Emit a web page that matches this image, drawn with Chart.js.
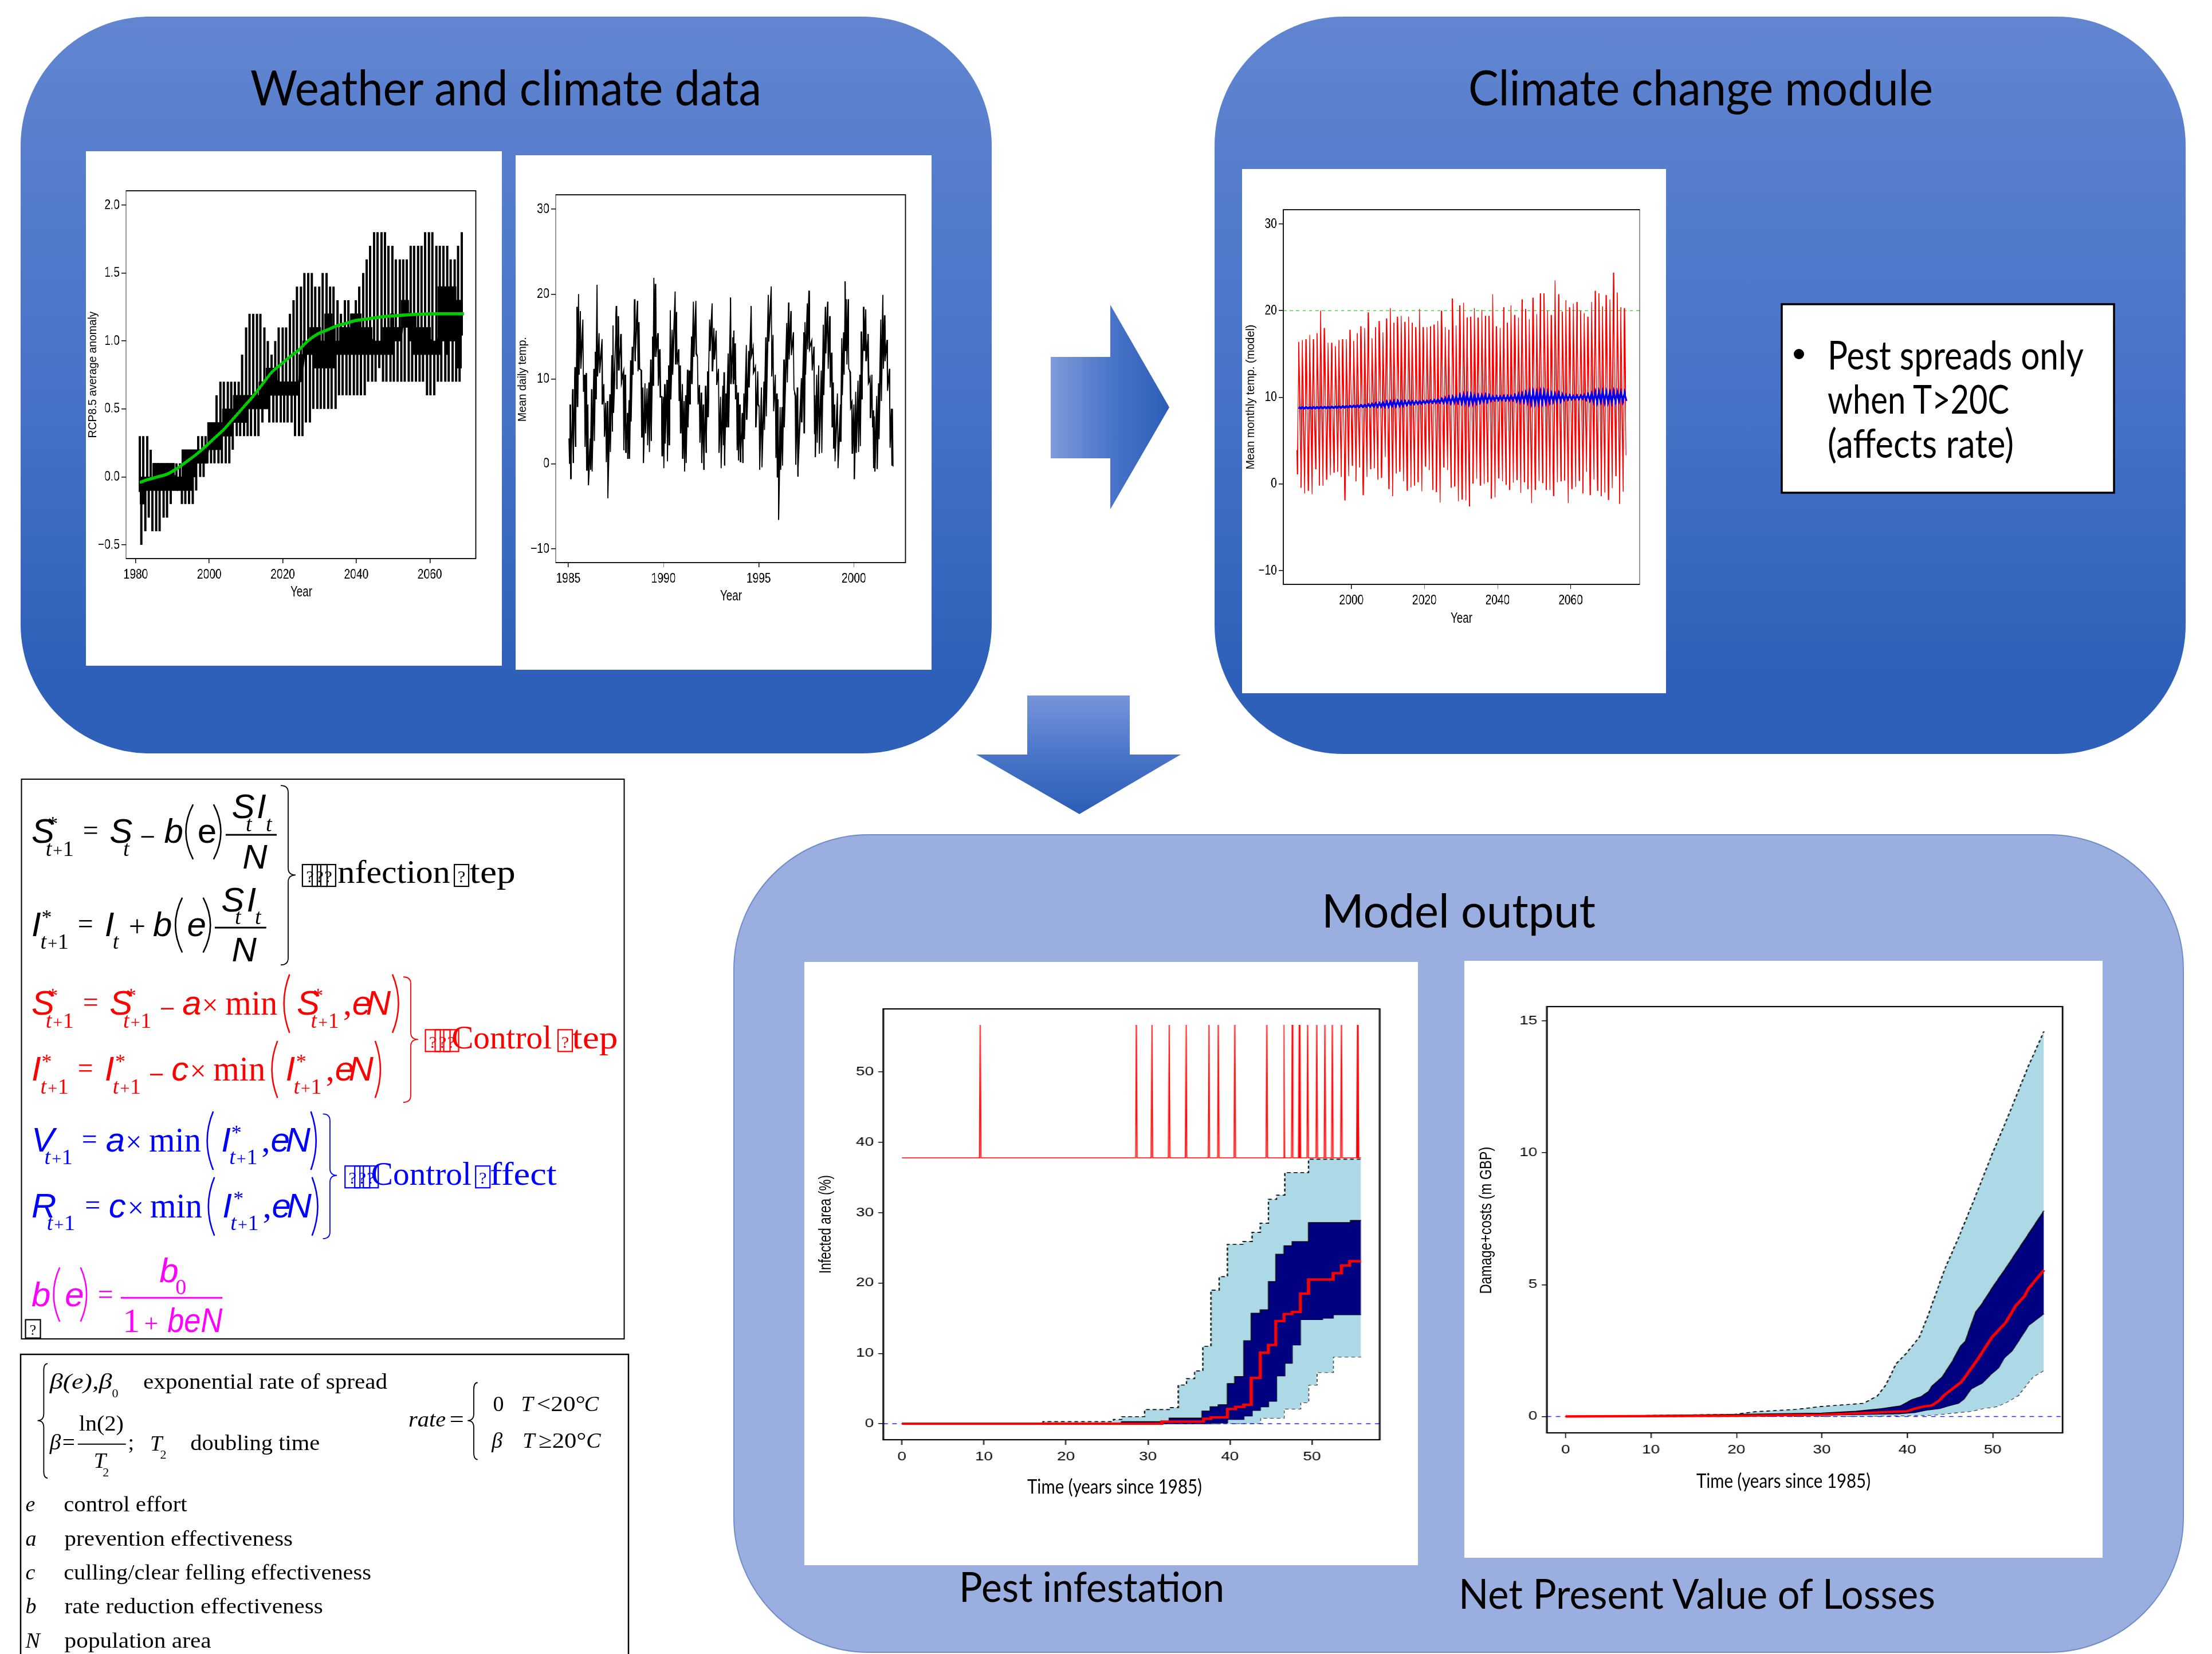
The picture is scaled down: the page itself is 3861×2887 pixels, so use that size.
<!DOCTYPE html>
<html><head><meta charset="utf-8">
<style>
html,body{margin:0;padding:0;background:#fff;width:3861px;height:2887px;overflow:hidden}
svg{position:absolute;left:0;top:0}
.w{position:absolute;background:#fff;transform-origin:0 0}
</style>
<script src="https://cdn.jsdelivr.net/npm/chart.js@4"></script>
</head><body>
<svg id="bg" width="3861" height="2887" xmlns="http://www.w3.org/2000/svg"></svg>
<div id="charts"></div>
<svg id="fg" width="3861" height="2887" xmlns="http://www.w3.org/2000/svg"></svg>
<script>
/* ---------- Chart A: RCP8.5 anomaly ---------- */
const anomStartYear=1981.1, anomStep=0.9955;
const anomPeaks=[.3,.3,.3,.2,.1,.1,.1,.1,.1,.1,.1,.1,.2,.2,.2,.2,.3,.3,.3,.4,.4,.6,.7,.7,.7,.7,.7,.7,.9,1.1,1.2,1.2,1.2,1.2,1.1,1,.9,1,1.1,1.1,1.1,1.2,1.3,1.4,1.4,
1.5,1.5,1.5,1.4,1.4,1.5,1.5,1.4,1.4,1.3,1.2,1.3,1.3,1.2,1.3,1.4,1.5,1.6,1.7,1.8,1.8,1.8,1.8,1.7,1.7,1.6,1.6,1.6,1.6,1.7,1.7,1.7,1.7,1.8,1.8,1.8,1.7,1.7,1.7,1.7,1.6,1.6,1.7,1.8];
const anomTroughs=[-.5,-.4,-.3,-.4,-.4,-.4,-.3,-.3,-.2,-.1,-.1,-.2,-.2,-.2,-.2,-.1,0,0,.1,.1,.1,.1,.1,.1,.1,.2,.3,.3,.3,.3,.3,.3,.3,.4,.5,.4,.4,.4,.4,.4,.4,.4,.3,
.3,.3,.4,.4,.5,.5,.5,.5,.5,.5,.5,.6,.6,.6,.6,.6,.6,.6,.6,.7,.7,.7,.8,.7,.7,.7,.7,.7,.7,.7,.7,.7,.7,.7,.7,.6,.6,.6,.7,.7,.7,.7,.7,.7,.7];
const anomBandHi=[0,0,0,0,.1,.1,.1,.1,.1,.1,0,0,.2,.2,.2,.2,.2,.2,.2,.4,.4,.4,.4,.5,.5,.5,.6,.6,.6,.6,.6,.6,.6,.7,.7,.8,.8,.8,.7,.7,.7,.7,.7,.7,.9,1,1,1.1,1.1,1.1,1,1.2,1.2,1.1,1,1.1,1.1,1.1,1.2,1.2,1.2,1.1,1.1,1.1,1,1,1,1.1,1.1,1.2,1.1,1.1,1.3,1.3,1.2,1.2,1.1,1.1,1.1,1.1,1,1,1.4,1.4,1.4,1.4,1.4,1.3,1.3];
const anomBandLo=[-.2,-.2,-.1,-.1,-.1,-.1,-.1,-.1,-.1,-.1,-.1,-.1,-.1,-.1,-.1,0,.1,.1,.1,.2,.2,.2,.2,.3,.3,.3,.4,.4,.4,.4,.5,.5,.5,.5,.5,.5,.6,.6,.6,.6,.6,.6,.6,.6,.7,.9,.9,.9,.8,.8,.8,.8,.8,.8,.9,.9,.9,.9,.9,.9,.9,.9,.9,.9,.9,.9,.9,.9,.9,.9,1,1,1.1,1.1,1,.9,.9,.9,.9,.9,.9,.9,.9,1,.9,1,1,.8,.8];
const trendYears=[1981.1,1983.3,1985.9,1988.5,1991.1,1993.7,1996.2,1998.8,2001.4,2004,2006.6,2009.2,2011.8,2014.4,2017,2019.6,2022.2,2024.2,2026.8,2029.4,2032,2034.6,2037.2,2039.8,2042.4,2045,2047.6,2050.2,2052.8,2055.4,2058,2060.6,2063.2,2069.3];
const trendValues=[-.04,-.02,0,.02,.06,.11,.16,.22,.285,.35,.43,.51,.59,.68,.77,.83,.89,.93,1,1.05,1.08,1.11,1.13,1.15,1.16,1.17,1.18,1.185,1.19,1.195,1.197,1.2,1.2,1.2];
const anomXTicks=[1980,2000,2020,2040,2060], anomYTicks=[-.5,0,.5,1,1.5,2];

/* ---------- Chart B: mean daily temperature ---------- */
const dailyYears=[1985.04,1985.11,1985.24,1985.36,1985.46,1985.54,1985.64,1985.77,1985.86,1985.95,1986.03,1986.15,1986.23,1986.35,1986.43,1986.51,1986.62,1986.77,1986.87,1986.97,1987.06,1987.19,1987.30,1987.35,1987.53,1987.63,1987.77,1987.90,1988.00,1988.11,1988.19,1988.28,1988.37,1988.49,1988.64,1988.71,1988.84,1988.92,1989.03,1989.14,1989.24,1989.34,1989.44,1989.50,1989.58,1989.71,1989.81,1989.91,1989.99,1990.07,1990.19,1990.28,1990.36,1990.46,1990.61,1990.69,1990.80,1990.88,1990.99,1991.08,1991.17,1991.27,1991.37,1991.47,1991.57,1991.70,1991.79,1991.89,1991.99,1992.10,1992.22,1992.32,1992.42,1992.55,1992.65,1992.77,1992.89,1993.00,1993.12,1993.19,1993.29,1993.39,1993.52,1993.65,
1993.70,1993.77,1993.84,1993.92,1994.02,1994.15,1994.22,1994.35,1994.47,1994.60,1994.71,1994.83,1994.95,1995.03,1995.15,1995.28,1995.38,1995.51,1995.66,1995.76,1995.88,1995.96,1996.02,1996.13,1996.23,1996.33,1996.48,1996.58,1996.70,1996.83,1996.93,1997.04,1997.24,1997.37,1997.44,1997.56,1997.65,1997.79,1997.91,1997.95,1998.05,1998.16,1998.29,1998.40,1998.51,1998.63,1998.74,1998.84,1998.92,1998.99,1999.14,1999.29,1999.37,1999.47,1999.54,1999.61,1999.71,1999.81,1999.90,2000.00,2000.10,2000.22,2000.32,2000.40,2000.52,2000.62,2000.75,2000.85,2000.95,2001.02,2001.08,2001.20,2001.30,2001.42,2001.53,2001.62,2001.75,2001.88,2001.98,2002.03];
const dailyHigh=[3,7,8.8,11.4,18.5,20,18,17,10.5,10.7,7,3,8.8,11.2,13.2,21.1,15.4,14.7,9.4,7.2,7.4,8.2,12.8,16.3,18.6,17.4,15.3,10.8,10.5,6,7.5,12.2,13.8,19.4,19.2,16.7,11,9,9.5,8.9,9.6,12.3,15,21.9,21.2,15.4,13.5,7.9,7.9,9.4,9.9,11.6,18.1,15.8,20.3,17.9,13.5,11.6,9.4,7.4,8.1,11.1,11,15,19.1,19.2,12.6,9.3,8.4,7,9.2,10.9,17,18.9,16,15.7,11.2,7.9,9.2,10.8,8.3,13,19.6,14.9,
15.7,14.2,9.3,8.4,7,6,8.3,14,13.3,18.6,13.7,11.4,10.9,6.7,9,9.7,14.9,19.9,20.9,15.2,10.5,8.3,7.6,6.7,6.7,12.3,16.6,19,18,15.5,8,9,10.1,15.5,16.7,18.9,20.4,14.5,13.8,8.1,10.5,11.6,11,16.4,18.5,19.1,17.4,13.1,9.6,7,8.3,7,14.8,15.5,21.5,19.4,19.4,10.8,7.2,7,8.5,9.8,10.5,15.6,18.5,18.2,15.3,10.1,10.5,6.3,5.6,8,9.5,17,19.9,17.5,14.6,11.2,6.5,6.5];
const dailyLow=[0,-1.8,.1,2,6.7,10.5,11.2,8.5,2,-.8,-2.5,-.7,-.9,2.7,7.6,10.3,10.7,7,3.2,.2,-4.05,1.4,3.8,6,8.8,11,9.6,1.6,1.3,.6,.6,5,10.5,12.1,10.9,11.2,3.1,.1,3.6,2.2,1.4,2.7,9.2,12.6,12.6,9.2,7.9,.9,-.5,2.4,.3,2.2,7.6,10.5,11.7,11.7,7.4,3.6,.6,-.9,.1,4.3,7,9.4,12.6,13,7,2.5,.1,-.7,1.3,5.5,13.3,10.9,12.3,9.3,1.3,-.5,2.2,-.2,4.3,4.3,9.4,9.4,
9.9,7.6,1.6,.4,.2,.1,2.9,5.2,9,12.8,10.8,4.3,7,-.7,-.4,4,5.6,14.4,10.3,6.2,.7,-1.6,-6.6,-.7,-.2,4.3,9.6,12.3,12.8,8.8,-.1,-1.5,4.9,3.6,10.5,13.5,13.6,11,3.6,.8,2.5,1.2,1.3,8.1,13,11.2,9,4.3,1.8,.3,-.5,2.6,8.1,10.5,13.3,11.7,11.2,6.7,1.2,-1.8,1.3,1.4,2.1,7.6,13.3,12.1,9.6,5.4,4.3,-.5,-.9,-.6,2.9,7.4,11.2,12.1,8.6,1.9,-.2,-.3];
const dailyXTicks=[1985,1990,1995,2000], dailyYTicks=[-10,0,10,20,30];

/* ---------- Chart C: modelled monthly temperature ---------- */
const modelStartYear=1985.58, modelStep=1.002, modelStartValue=3.9, modelEndValue=3.3;
const modelPeaks=[16.4,16.6,16.7,17.2,16.7,17.4,20,18,16.3,16.3,15.9,16.6,16.7,16.7,17.8,16.5,17.4,18.2,18,19.8,16.8,18.1,18.8,17.5,19.1,20.3,18.6,19.3,19.4,18.7,19.3,18.6,18.1,20.2,18.1,18.1,18.2,18.4,18.8,20,18.1,17.8,21.4,18.3,20.6,
20.9,19.2,19.3,20.3,19.2,20.1,19.4,19.4,21.9,18.2,18,20.4,18.6,20.6,19.5,19.2,21.3,20.2,19,21.5,19.6,22,22,20,19.5,23.5,21.9,19.9,21.2,20.4,20.8,21,20,19.7,19.3,21,22.3,22,20.5,21.8,21.3,24.4,22.1,20.4,20.3];
const modelTroughs=[1.1,-.45,-1.1,-.8,-1.2,1.7,-.2,-.2,.5,1,1.3,1.4,.8,-1.9,.9,2.1,.3,1.9,-1.3,.8,1.7,1.8,.5,.7,3.1,-.6,-1.4,1.2,1.4,.3,-.8,-.4,-.2,.2,-.85,2,1.6,-.7,-.95,-2.15,1.9,1.6,-.45,-.3,-2,
-1.8,-1.9,-2.6,.05,.6,-.2,0,.2,-1.7,-1.55,.65,.3,-.1,-.7,.15,.45,-1.05,.2,-.6,-2.2,-.7,.35,.1,-.7,-.7,-1.4,.2,.3,.4,-2.2,-.6,-.35,.35,-1.1,1.4,-1.3,.5,-.8,-1.4,-1,-1.85,-.5,.9,-2.3,-.9];
const meanTemp=[8.78,8.78,8.79,8.79,8.8,8.8,8.81,8.82,8.83,8.84,8.85,8.87,8.89,8.91,8.93,8.95,8.97,8.99,9.02,9.05,9.08,9.11,9.14,9.17,9.2,9.23,9.26,9.29,9.31,9.33,9.35,9.37,9.39,9.41,9.44,9.47,9.5,9.53,9.57,9.6,9.64,9.68,9.72,9.76,9.79,
9.8,9.78,9.77,9.8,9.83,9.85,9.87,9.9,9.9,9.9,9.9,9.9,9.9,9.92,9.92,9.93,9.95,9.95,9.97,9.97,9.98,9.98,9.98,9.98,9.98,10,10,10,10,10,10,10,10,10,10,10,10,10.03,10.03,10.03,10.03,10.05,10.05,10.05,10.05];
const meanSwing=[.05,.05,.05,.05,.05,.05,.05,.05,.05,.05,.05,.05,.05,.05,.05,.06,.07,.09,.1,.12,.15,.18,.2,.22,.26,.26,.26,.26,.25,.2,.18,.15,.13,.12,.11,.11,.12,.15,.15,.2,.28,.31,.31,.31,.4,
.48,.48,.48,.4,.35,.35,.35,.28,.2,.2,.2,.22,.22,.22,.3,.4,.4,.5,.6,.6,.6,.6,.6,.5,.42,.42,.42,.3,.22,.2,.18,.18,.18,.25,.31,.45,.55,.55,.55,.55,.55,.55,.5,.48,.48];
const thresholdLevel=[20,20], thresholdSpan=[1981.36,2078.9];
const modelXTicks=[2000,2020,2040,2060], modelYTicks=[-10,0,10,20,30];

/* ---------- Chart D: infected area ---------- */
const controlYears=[9.56,28.6,30.5,32.6,34.66,37.45,38.6,40.6,44.5,46.6,47.6,48.45,48.55,49.5,50.6,51.6,52.5,53.6,55.55,55.65];
const controlBase=37.8, controlPeak=56.7, controlEnd=[0,56];
const infQ95T=[0,17.2,25.8,26.8,29.6,32.6,33.7,34.7,35.7,36.7,37.7,38.7,39.7,41.6,42.7,43.7,44.7,45.7,46.7,49.6,56];
const infQ95=[.1,.3,.6,1,2,2.3,5.5,6.4,7.5,11,19,20.9,25.5,25.9,27.2,28.5,31.9,32.5,35.7,37.6,37.8];
const infQ75T=[0,26.8,32.6,36.6,37.6,38.6,39.7,40.6,41.7,42.6,43.7,44.7,45.6,46.6,47.6,49.6,53.5,54.7,56];
const infQ75=[.1,.3,.8,1.8,2.4,2.7,5.7,6.7,11.8,15.7,16.2,20.2,24.1,25.3,25.9,28.6,28.6,28.9,28.9];
const infMedT=[0,31.7,36.8,37.7,39.7,40.7,41.7,42.6,43.7,44.7,45.6,46.6,47.6,48.6,49.6,52.6,53.6,54.6,56];
const infMed=[0,.3,.7,.9,2.1,2.4,2.7,6.5,10.1,11.2,14.6,15.6,15.9,18.5,20.5,21.4,22.5,23.1,23.1];
const infQ25T=[0,37.6,39.7,41.7,42.7,43.7,44.7,45.7,46.7,47.6,48.6,51.3,52.6,56];
const infQ25=[0,.1,.6,1.1,1.9,2.4,3.2,6.8,8.6,11.2,14.8,15,15.5,15.5];
const infQ05T=[0,38.8,43.7,46.6,48.6,49.6,50.6,52.6,56];
const infQ05=[0,.05,.8,2.1,3,5.5,7.3,9.5,9.5];
const timeTicks=[0,10,20,30,40,50], infYTicks=[0,10,20,30,40,50];

/* ---------- Chart E: damage + costs ---------- */
const dmgQ95T=[0,19.7,22.2,27,30,34.9,36.5,37.5,38.7,39.9,41.4,42.4,44.4,45.9,47.8,50,51.7,54.2,56];
const dmgQ95=[0,.08,.18,.27,.38,.5,.78,1.2,2,2.4,3,3.8,5.6,6.7,8.2,10,11.3,13.3,14.6];
const dmgQ75T=[0,20,30,34,37,39.2,40.6,41.6,42.5,42.9,44.1,45.3,46.2,46.8,48,48.7,50.2,51.7,56];
const dmgQ75=[0,.08,.13,.2,.3,.4,.65,.75,.95,1.15,1.5,2.1,2.65,2.85,3.95,4.25,5,5.7,7.8];
const dmgMedT=[0,20,30,40,40.9,41.9,42.9,43.8,44.3,46.3,47,48.3,49.9,51.5,52.7,53.7,54.2,56];
const dmgMed=[0,.03,.07,.2,.3,.38,.42,.62,.8,1.3,1.6,2.2,3,3.55,4.2,4.55,4.85,5.55];
const dmgQ25T=[0,20,30,39,40.9,42.4,43.8,44.8,46,46.6,47.5,48.8,49.8,50.7,51.3,52.3,54.2,54.8,56];
const dmgQ25=[0,.02,.05,.1,.15,.25,.3,.4,.5,.65,1.05,1.27,1.6,1.85,2.2,2.5,3.45,3.6,3.9];
const dmgQ05T=[0,35,41,42.9,45.8,47.5,48.8,50.5,51.7,53,54.7,56];
const dmgQ05=[0,.01,.04,.05,.15,.2,.3,.38,.55,.8,1.5,1.75];
const dmgYTicks=[0,5,10,15];
const zeroLine=[0,0];

/* ---------- text content ---------- */
const panelTitles=["Weather and climate data","Climate change module","Model output"];
const captionTexts=["Pest infestation","Net Present Value of Losses"];
const pestRuleLines=["Pest spreads only","when T>20C","(affects rate)"];
const axisX="Time (years since 1985)";

/* ---------- helpers ---------- */
const NS='http://www.w3.org/2000/svg';
const bg=document.getElementById('bg'), fg=document.getElementById('fg');
function el(p,n,a){const e=document.createElementNS(NS,n);for(const k in a)e.setAttribute(k,a[k]);p.appendChild(e);return e;}
const SANS='Liberation Sans', SERIF='Liberation Serif', CAL='Lato';
function T(s,x,y,o={}){
  const a={x:o.dx||0,y:0,'font-family':o.f||SERIF,'font-size':o.s||40,fill:o.c||'#000',transform:`translate(${x},${y}) rotate(${o.r||0})`};
  if(o.i)a['font-style']='italic';
  if(o.a)a['text-anchor']=o.a;
  if(o.w){a.textLength=o.w;a.lengthAdjust='spacingAndGlyphs';}
  const e=el(fg,'text',a);e.textContent=s;return e;
}
function pts(xs,ys){return xs.map((x,i)=>({x,y:ys[i]}));}
const borderPlugin={id:'box',afterDraw(c){const a=c.chartArea,x=c.ctx;x.save();x.strokeStyle='#000';x.lineWidth=c.options.boxWidth||1.6;x.strokeRect(a.left,a.top,a.right-a.left,a.bottom-a.top);x.restore();}};
function plot(cfg){
  const [x0,y0,x1,y1]=cfg.box,[l,t,r,b]=cfg.area,sx=cfg.sx;
  const W=Math.round((x1-x0)/sx),H=y1-y0;
  const d=document.createElement('div');d.className='w';
  d.style.cssText=`left:${x0}px;top:${y0}px;width:${W}px;height:${H}px;transform:scale(${sx},1)`;
  const cv=document.createElement('canvas');cv.width=W;cv.height=H;d.appendChild(cv);
  document.getElementById('charts').appendChild(d);
  const fnt={family:SANS,size:cfg.fs};
  const common={type:'linear',border:{display:false},
    grid:{display:true,drawOnChartArea:false,drawTicks:true,color:'#000',lineWidth:1.5}};
  new Chart(cv,{type:'scatter',data:{datasets:cfg.datasets},plugins:[borderPlugin],options:{
    responsive:false,animation:false,devicePixelRatio:1,events:[],boxWidth:cfg.bw||1.8,
    layout:{padding:{top:t-y0,right:(x1-r)/sx,left:0,bottom:0}},
    plugins:{legend:{display:false},tooltip:{enabled:false},title:{display:false}},
    elements:{point:{radius:0},line:{tension:0}},
    scales:{
      x:{...common,min:cfg.xr[0],max:cfg.xr[1],grid:{...common.grid,tickLength:cfg.tl||8},
        ticks:{font:fnt,color:'#000',autoSkip:false,maxRotation:0,minRotation:0,padding:cfg.xp,callback:v=>String(v)},
        afterBuildTicks:s=>{s.ticks=cfg.xt.map(value=>({value}));},afterFit:s=>{s.height=y1-b;}},
      y:{...common,min:cfg.yr[0],max:cfg.yr[1],grid:{...common.grid,tickLength:(cfg.tl||8)/sx},
        ticks:{font:fnt,color:'#000',autoSkip:false,padding:cfg.yp,callback:cfg.yf},
        afterBuildTicks:s=>{s.ticks=cfg.yt.map(value=>({value}));},afterFit:s=>{s.width=(l-x0)/sx;}}
    }}});
}
const intFmt=v=>v<0?'\u2212'+Math.abs(v):String(v);
const decFmt=v=>(v<0?'\u2212':'')+Math.abs(v).toFixed(1);

/* ---------- background shapes ---------- */
const defs=el(bg,'defs',{});
function grad(id,x2,y2,stops){const g=el(defs,'linearGradient',{id,x1:0,y1:0,x2,y2});stops.forEach(s=>el(g,'stop',{offset:s[0],'stop-color':s[1]}));}
grad('gp',0,1,[[0,'#6185D0'],[.5,'#4873C8'],[.9,'#2E60B9'],[1,'#2E60B9']]);
grad('ga',1,0,[[0,'#7E9BDB'],[.5,'#4A75C8'],[1,'#2C5EB7']]);
grad('gd',0,1,[[0,'#7695DA'],[.5,'#4A75C8'],[1,'#2C5EB7']]);
el(bg,'rect',{x:36,y:29,width:1695,height:1286,rx:225,ry:225,fill:'url(#gp)'});
el(bg,'rect',{x:2120,y:29,width:1695,height:1287,rx:225,ry:225,fill:'url(#gp)'});
el(bg,'rect',{x:1281,y:1457,width:2530,height:1427,rx:235,ry:235,fill:'#9AAFDF',stroke:'#6F8CCB','stroke-width':2});
el(bg,'polygon',{points:'1834,623 1938,623 1938,532 2041,711 1938,889 1938,800 1834,800',fill:'url(#ga)'});
el(bg,'polygon',{points:'1793,1214 1972,1214 1972,1317 2061,1317 1884,1421 1704,1317 1793,1317',fill:'url(#gd)'});
el(bg,'rect',{x:3110,y:531,width:580,height:329,fill:'#fff',stroke:'#000','stroke-width':3.5});
el(bg,'rect',{x:37.5,y:1360,width:1052,height:977,fill:'#fff',stroke:'#000','stroke-width':2});
el(bg,'rect',{x:36,y:2364,width:1061,height:560,fill:'#fff',stroke:'#000','stroke-width':2.5});

/* ---------- charts ---------- */
(function(){
  const spikes=[];
  anomPeaks.forEach((p,i)=>{
    const yr=anomStartYear+i*anomStep, m=(anomBandHi[i]+anomBandLo[i])/2;
    spikes.push({x:yr,y:m},{x:yr,y:p},{x:yr,y:m});
    if(i<anomTroughs.length){const yt=yr+.45;spikes.push({x:yt,y:m},{x:yt,y:anomTroughs[i]},{x:yt,y:m});}
  });
  const bandX=anomPeaks.map((_,i)=>anomStartYear+i*anomStep);
  plot({box:[150,264,876,1162],area:[220,333,830,975],sx:.8,fs:24,xr:[1977.35,2072.5],yr:[-.601,2.105],xt:anomXTicks,yt:anomYTicks,yf:decFmt,xp:6,yp:4,
    datasets:[
      {data:pts(trendYears,trendValues),showLine:true,borderColor:'#00CC00',borderWidth:5.5,cubicInterpolationMode:'monotone',order:0},
      {data:spikes,showLine:true,borderColor:'#000',borderWidth:5,order:1},
      {data:pts(bandX,anomBandHi),showLine:true,stepped:'middle',borderColor:'#000',borderWidth:1,fill:{target:3},backgroundColor:'#000',order:2},
      {data:pts(bandX,anomBandLo),showLine:true,stepped:'middle',borderColor:'#000',borderWidth:1,order:2}
    ]});
  const daily=[];
  dailyYears.forEach((y,i)=>{daily.push({x:y,y:dailyHigh[i]},{x:y+.025,y:dailyLow[i]});});
  plot({box:[900,271,1626,1169],area:[970,340,1580,982],sx:.8,fs:24,xr:[1984.34,2002.71],yr:[-11.62,31.69],xt:dailyXTicks,yt:dailyYTicks,yf:intFmt,xp:6,yp:4,
    datasets:[{data:daily,showLine:true,borderColor:'#000',borderWidth:2.8}]});
  const red=[{x:modelStartYear-.45,y:modelStartValue}], blue=[];
  modelPeaks.forEach((p,i)=>{
    const yr=modelStartYear+i*modelStep;
    red.push({x:yr-.36,y:modelTroughs[i]},{x:yr,y:p});
    blue.push({x:yr,y:meanTemp[i]+meanSwing[i]},{x:yr+.5,y:meanTemp[i]-meanSwing[i]});
  });
  red.push({x:modelStartYear+modelPeaks.length*modelStep-.6,y:modelEndValue});
  plot({box:[2168,295,2908,1210],area:[2240,366,2862,1020],sx:.8,fs:24,xr:[1981.36,2078.9],yr:[-11.59,31.65],xt:modelXTicks,yt:modelYTicks,yf:intFmt,xp:6,yp:4,
    datasets:[
      {data:blue,showLine:true,borderColor:'#0000EE',borderWidth:4.4,order:0},
      {data:red,showLine:true,borderColor:'#FF0000',borderWidth:2.2,order:1},
      {data:pts(thresholdSpan,thresholdLevel),showLine:true,borderColor:'#55DD55',borderWidth:1.6,borderDash:[7,7],order:2}
    ]});
  const control=[{x:controlEnd[0],y:controlBase}];
  controlYears.forEach(y=>control.push({x:y-.09,y:controlBase},{x:y,y:controlPeak},{x:y+.09,y:controlBase}));
  control.push({x:controlEnd[1],y:controlBase});
  const dash={showLine:true,borderColor:'#000',borderWidth:1.7,borderDash:[5,4]};
  const solid={showLine:true,borderColor:'#000',borderWidth:1.4};
  plot({box:[1404,1679,2475,2732],area:[1542,1761,2408,2513],sx:1.3,fs:21.5,tl:9,bw:2.2,xr:[-2.26,58.27],yr:[-2.28,58.98],xt:timeTicks,yt:infYTicks,yf:intFmt,xp:8,yp:6,
    datasets:[
      {data:pts(infMedT,infMed),showLine:true,stepped:'before',borderColor:'#FF0000',borderWidth:4.2,order:0},
      {data:pts([-2.26,58.27],zeroLine),showLine:true,borderColor:'#2222FF',borderWidth:1.4,borderDash:[6,6],order:1},
      {data:control,showLine:true,borderColor:'#FF0000',borderWidth:1.4,order:1},
      {data:pts(infQ75T,infQ75),...solid,stepped:'before',fill:{target:4},backgroundColor:'#000080',order:2},
      {data:pts(infQ25T,infQ25),...solid,stepped:'before',order:2},
      {data:pts(infQ95T,infQ95),...dash,stepped:'before',fill:{target:6},backgroundColor:'#ADD8E6',order:3},
      {data:pts(infQ05T,infQ05),...dash,stepped:'before',order:3}
    ]});
  plot({box:[2556,1677,3670,2719],area:[2700,1757,3600,2501],sx:1.3,fs:21.5,tl:9,bw:2.2,xr:[-2.19,58.18],yr:[-.62,15.54],xt:timeTicks,yt:dmgYTicks,yf:intFmt,xp:8,yp:6,
    datasets:[
      {data:pts(dmgMedT,dmgMed),showLine:true,borderColor:'#FF0000',borderWidth:4.2,order:0},
      {data:pts([-2.19,58.18],zeroLine),showLine:true,borderColor:'#2222FF',borderWidth:1.4,borderDash:[6,6],order:1},
      {data:pts(dmgQ75T,dmgQ75),...solid,fill:{target:3},backgroundColor:'#000080',order:2},
      {data:pts(dmgQ25T,dmgQ25),...solid,order:2},
      {data:pts(dmgQ95T,dmgQ95),...dash,fill:{target:5},backgroundColor:'#ADD8E6',order:3},
      {data:pts(dmgQ05T,dmgQ05),...dash,order:3}
    ]});
})();

/* ---------- titles, axis names ---------- */
T(panelTitles[0],437,184,{f:CAL,s:86,w:892});
T(panelTitles[1],2563,184,{f:CAL,s:86,w:811});
T(panelTitles[2],2307,1619,{f:CAL,s:82,w:478});
T(captionTexts[0],1674,2796,{f:CAL,s:72,w:463});
T(captionTexts[1],2546,2808,{f:CAL,s:72,w:832});
T(pestRuleLines[0],3190,645,{f:CAL,s:70,w:447});
T(pestRuleLines[1],3190,722,{f:CAL,s:70,w:317});
T(pestRuleLines[2],3190,799,{f:CAL,s:70,w:325});
el(fg,'circle',{cx:3140,cy:618,r:9,fill:'#000'});
T(axisX,1793,2607,{f:CAL,s:35,w:305});
T(axisX,2961,2597,{f:CAL,s:35,w:304});
T('Year',507,1041,{f:SANS,s:25,w:38});
T('Year',1257,1048,{f:SANS,s:25,w:38});
T('Year',2532,1087,{f:SANS,s:25,w:38});
T('RCP8.5 average anomaly',168,654,{f:SANS,s:21,r:-90,w:221,dx:-110.5});
T('Mean daily temp.',918,662,{f:SANS,s:21,r:-90,w:148,dx:-74});
T('Mean monthly temp. (model)',2189,693,{f:SANS,s:21,r:-90,w:253,dx:-126.5});
T('Infected area (%)',1450,2137,{f:SANS,s:30,r:-90,w:172,dx:-86});
T('Damage+costs (m GBP)',2603,2130,{f:SANS,s:30,r:-90,w:257,dx:-128.5});

/* ---------- equation block ---------- */
const EX=X=>20+X*.7015, EY=Y=>1350+Y*.6378;
const BLK='#000',RED='#FF0000',BLU='#0000FF',MAG='#FF00FF';
const V=(s,X,Y,c,o={})=>T(s,EX(X),EY(Y),{f:SANS,s:60,i:1,c,...o});
const R=(s,X,Y,c,o={})=>T(s,EX(X),EY(Y),{f:SERIF,s:62,c,...o});
const sub=(X,Y,c)=>{T('t',EX(X),EY(Y),{s:38,i:1,c});T('+',EX(X+18),EY(Y),{s:30,c});T('1',EX(X+43),EY(Y),{s:38,c});};
const st=(X,Y,c)=>T('*',EX(X),EY(Y),{s:36,c});
const eq=(X,Y,c)=>T('=',EX(X),EY(Y),{s:50,c,w:27});
const mn=(X,Y,c)=>T('\u2013',EX(X),EY(Y),{f:SANS,s:40,c});
function paren(X1,X2,Y1,Y2,c,open){
  const a=EX(X1),b=EX(X2),t=EY(Y1),u=EY(Y2),m=(t+u)/2,w=b-a;
  const d=open?`M${b},${t} Q${a-w},${m} ${b},${u}`:`M${a},${t} Q${b+w},${m} ${a},${u}`;
  el(fg,'path',{d,fill:'none',stroke:c,'stroke-width':2.6});
}
function brace(X1,X2,Y1,Y2,Ym,c){
  const a=EX(X1),b=EX(X2),x=(a+b)/2,t=EY(Y1),u=EY(Y2),m=EY(Ym),r=12;
  el(fg,'path',{d:`M${a},${t} Q${x},${t} ${x},${t+r} L${x},${m-r} Q${x},${m} ${b},${m} Q${x},${m} ${x},${m+r} L${x},${u-r} Q${x},${u} ${a},${u}`,fill:'none',stroke:c,'stroke-width':1.8});
}
function bar(X1,X2,Y,c){el(fg,'rect',{x:EX(X1),y:EY(Y)-1.5,width:EX(X2)-EX(X1),height:3,fill:c});}
function tofu(x,y,w,h,c){
  el(fg,'rect',{x,y,width:w,height:h,fill:'none',stroke:c,'stroke-width':2.2});
  T('?',x+w/2,y+h*.82,{s:h*.8,c,a:'middle'});
}
function tof3(X,Y,c){const x=EX(X),y=EY(Y)-31;tofu(x,y,26,38,c);tofu(x+17,y,26,38,c);tofu(x+32,y,26,38,c);}
const TS=58;
// row 1
V('S',50,190,BLK);st(90,157,BLK);sub(85,226,BLK);eq(178,182,BLK);V('S',244,190,BLK);T('t',EX(278),EY(226),{s:38,i:1});
mn(323,190,BLK);V('b',380,190,BLK);paren(434,452,85,235,BLK,1);V('e',463,190,BLK,{i:0});paren(503,521,85,235,BLK,0);
bar(533,660,168,BLK);V('S',548,122,BLK);V('I',610,122,BLK);T('t',EX(583),EY(158),{s:38,i:1});T('t',EX(633),EY(158),{s:38,i:1});V('N',575,260,BLK);
// row 2
V('I',50,445,BLK);st(75,412,BLK);sub(72,480,BLK);eq(165,437,BLK);V('I',232,445,BLK);T('t',EX(252),EY(480),{s:38,i:1});
T('+',EX(292),EY(445),{s:52});V('b',352,445,BLK);paren(408,425,340,490,BLK,1);V('e',437,445,BLK);paren(477,495,340,490,BLK,0);
bar(506,634,422,BLK);V('S',522,378,BLK);V('I',585,378,BLK);T('t',EX(556),EY(412),{s:38,i:1});T('t',EX(606),EY(412),{s:38,i:1});V('N',548,514,BLK);
brace(670,707,33,524,278,BLK);
tof3(724,298,BLK);T('nfection',EX(812),EY(300),{s:TS,w:196});tofu(EX(1102),EY(298)-31,25,38,BLK);T('tep',EX(1140),EY(300),{s:TS,w:80});
// row 3
V('S',50,660,RED);st(90,627,RED);sub(85,696,RED);eq(178,652,RED);V('S',244,660,RED);st(285,627,RED);sub(278,696,RED);
mn(372,660,RED);V('a',425,660,RED);T('\u00D7',EX(474),EY(660),{s:50,c:RED});R('min',532,660,RED,{w:91});
paren(678,692,550,710,RED,1);V('S',710,660,RED);st(750,627,RED);sub(745,696,RED);R(',',825,660,RED);V('e',848,660,RED);V('N',882,660,RED);paren(948,963,550,710,RED,0);
// row 4
V('I',50,840,RED);st(75,807,RED);sub(72,876,RED);eq(165,832,RED);V('I',232,840,RED);st(258,807,RED);sub(252,876,RED);
mn(345,840,RED);V('c',398,840,RED);T('\u00D7',EX(444),EY(840),{s:50,c:RED});R('min',502,840,RED,{w:91});
paren(648,662,732,888,RED,1);V('I',682,840,RED);st(708,807,RED);sub(702,876,RED);R(',',782,840,RED);V('e',805,840,RED);V('N',839,840,RED);paren(905,918,732,888,RED,0);
brace(975,1012,557,900,728,RED);
tof3(1030,750,RED);T('Control',EX(1095),EY(752),{s:TS,c:RED,w:175});tofu(EX(1360),EY(750)-31,25,38,RED);T('tep',EX(1395),EY(752),{s:TS,c:RED,w:80});
// row 5
V('V',50,1035,BLU);sub(82,1070,BLU);eq(175,1027,BLU);V('a',235,1035,BLU);T('\u00D7',EX(284),EY(1035),{s:50,c:BLU});R('min',342,1035,BLU,{w:91});
paren(487,502,925,1085,BLU,1);V('I',522,1035,BLU);st(547,1002,BLU);sub(542,1070,BLU);R(',',622,1035,BLU);V('e',645,1035,BLU);V('N',682,1035,BLU);paren(745,758,925,1085,BLU,0);
// row 6
V('R',50,1215,BLU);sub(88,1250,BLU);eq(183,1207,BLU);V('c',242,1215,BLU);T('\u00D7',EX(289),EY(1215),{s:50,c:BLU});R('min',345,1215,BLU,{w:91});
paren(490,505,1105,1265,BLU,1);V('I',525,1215,BLU);st(552,1182,BLU);sub(545,1250,BLU);R(',',625,1215,BLU);V('e',648,1215,BLU);V('N',685,1215,BLU);paren(748,762,1105,1265,BLU,0);
brace(775,810,932,1273,1100,BLU);
tof3(830,1123,BLU);T('Control',EX(895),EY(1125),{s:TS,c:BLU,w:175});tofu(EX(1155),EY(1123)-31,25,38,BLU);T('ffect',EX(1190),EY(1125),{s:TS,c:BLU,w:117});
// row 7
V('b',50,1458,MAG);paren(105,120,1352,1500,MAG,1);V('e',133,1458,MAG);paren(172,187,1352,1500,MAG,0);eq(215,1452,MAG);
bar(272,525,1435,MAG);V('b',368,1392,MAG);T('0',EX(408),EY(1425),{s:38,c:MAG});
T('1',EX(277),EY(1528),{s:60,c:MAG});T('+',EX(330),EY(1528),{s:44,c:MAG});V('beN',388,1528,MAG,{w:96});
tofu(EX(35),EY(1495),26,32,BLK);

/* ---------- definitions block ---------- */
const DX=X=>20+X*.7015, DY=Y=>2340+Y*.3489;
const D=(s,X,Y,w,o={})=>T(s,DX(X),DY(Y),{s:38,w,...o});
function bL(X1,X2,Y1,Y2,Ym){
  const a=DX(X2),b=DX(X1),x=(a+b)/2+2,t=DY(Y1),u=DY(Y2),m=DY(Ym),r=12;
  el(fg,'path',{d:`M${a},${t} Q${x},${t} ${x},${t+r} L${x},${m-r} Q${x},${m} ${b},${m} Q${x},${m} ${x},${m+r} L${x},${u-r} Q${x},${u} ${a},${u}`,fill:'none',stroke:'#000','stroke-width':1.8});
}
bL(65,90,115,688,400);
D('\u03B2(e),\u03B2',95,240,109,{i:1});D('0',250,283,0,{s:22});
D('exponential rate of spread',328,240,426);
D('\u03B2=',95,545,46,{i:1});D('ln(2)',168,450,78);
el(fg,'rect',{x:DX(165),y:DY(518)-1,width:84,height:2,fill:'#000'});
D('T',205,635,0,{i:1});D('2',227,678,0,{s:22});D(';',290,545,0);D('T',345,550,0,{i:1});D('2',370,590,0,{s:22});
D('doubling time',445,548,226);
D('rate',988,430,65,{i:1});D('=',1090,430,25);bL(1135,1160,210,595,400);
D('0',1198,352,0);D('T',1268,352,0,{i:1});D('<20\u00B0',1307,352,85);D('C',1425,352,0,{i:1});
D('\u03B2',1195,535,0,{i:1});D('T',1272,535,0,{i:1});D('\u226520\u00B0',1312,535,83);D('C',1430,535,0,{i:1});
[['e','control effort',855,130,437],['a','prevention effectiveness',1027,132,700],['c','culling/clear felling effectiveness',1195,130,895],['b','rate reduction effectiveness',1365,132,775],['N','population area',1535,132,497]].forEach(r=>{
  D(r[0],35,r[2],0,{i:1});D(r[1],r[3],r[2],(r[4]-r[3])*.7015);
});
</script>
</body></html>
